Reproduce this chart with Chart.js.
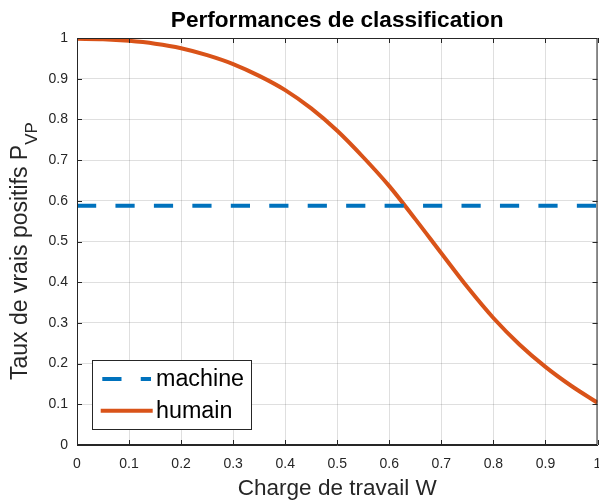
<!DOCTYPE html>
<html>
<head>
<meta charset="utf-8">
<script src="https://cdn.jsdelivr.net/npm/chart.js@4/dist/chart.umd.min.js"></script>
<style>
  html, body { margin: 0; padding: 0; background: #ffffff; }
  canvas { display: block; }
</style>
</head>
<body>
<canvas id="perf" width="599" height="500"></canvas>
<script>
// Workload W (x) and true-positive rate for each classifier
const workload = [0, 0.05, 0.1, 0.15, 0.2, 0.25, 0.3, 0.35, 0.4, 0.45, 0.5,
                  0.55, 0.6, 0.65, 0.7, 0.75, 0.8, 0.85, 0.9, 0.95, 1];
const humanRate = [0.998, 0.997, 0.993, 0.986, 0.975, 0.958, 0.936, 0.907, 0.872, 0.827, 0.772,
                   0.707, 0.636, 0.555, 0.471, 0.388, 0.312, 0.247, 0.192, 0.145, 0.104];
const machineX = [0, 1];
const machineRate = [0.588, 0.588];

const tickValues = [0, 0.1, 0.2, 0.3, 0.4, 0.5, 0.6, 0.7, 0.8, 0.9, 1];
const tickLabels = ['0', '0.1', '0.2', '0.3', '0.4', '0.5', '0.6', '0.7', '0.8', '0.9', '1'];

const seriesNames = ['machine', 'humain'];
const chartTitle = 'Performances de classification';
const xTitle = 'Charge de travail W';
const yTitleMain = 'Taux de vrais positifs P';
const yTitleSub = 'VP';

const BLUE = '#0072BD';
const ORANGE = '#D95319';
const AXIS = '#262626';
const FONT = '"Liberation Sans", Arial, Helvetica, sans-serif';

function labelFor(v) {
  const i = tickValues.findIndex(t => Math.abs(t - v) < 1e-9);
  return i >= 0 ? tickLabels[i] : '';
}

// Box, inward tick marks, title, rotated y title with subscript, legend
const decorations = {
  id: 'decorations',
  afterDatasetsDraw(chart) {
    const { ctx, chartArea: a, scales } = chart;
    const tl = 5;
    ctx.save();
    ctx.strokeStyle = AXIS;
    ctx.lineWidth = 1;
    ctx.beginPath();
    ctx.rect(a.left + 0.5, a.top + 0.5, a.right - a.left - 1, a.bottom - a.top - 1);
    ctx.stroke();
    ctx.beginPath();
    tickValues.forEach(v => {
      const x = Math.round(scales.x.getPixelForValue(v)) + 0.5;
      ctx.moveTo(x, a.bottom); ctx.lineTo(x, a.bottom - tl);
      ctx.moveTo(x, a.top); ctx.lineTo(x, a.top + tl);
      const y = Math.round(scales.y.getPixelForValue(v)) + 0.5;
      ctx.moveTo(a.left, y); ctx.lineTo(a.left + tl, y);
      ctx.moveTo(a.right, y); ctx.lineTo(a.right - tl, y);
    });
    ctx.stroke();

    // legend
    const lx = 92.5, ly = 360.5, lw = 159, lh = 69;
    ctx.fillStyle = '#ffffff';
    ctx.fillRect(lx, ly, lw, lh);
    ctx.strokeStyle = AXIS;
    ctx.strokeRect(lx, ly, lw, lh);
    const ds = chart.data.datasets;
    const rows = [379, 410.7];
    const spans = [[102.3, 151], [100.7, 152.7]];
    rows.forEach((ry, i) => {
      ctx.save();
      ctx.strokeStyle = ds[i].borderColor;
      ctx.lineWidth = ds[i].borderWidth;
      ctx.lineCap = 'butt';
      ctx.setLineDash(ds[i].borderDash || []);
      ctx.beginPath();
      ctx.moveTo(spans[i][0], ry);
      ctx.lineTo(spans[i][1], ry);
      ctx.stroke();
      ctx.restore();
      ctx.fillStyle = '#000000';
      ctx.font = '23.3px ' + FONT;
      ctx.textAlign = 'left';
      ctx.textBaseline = 'middle';
      ctx.fillText(ds[i].label, 156, ry + 1);
    });

    ctx.restore();
  },
  afterDraw(chart) {
    const { ctx, chartArea: a } = chart;
    ctx.save();
    // title
    ctx.fillStyle = '#000000';
    ctx.font = 'bold 22.6px ' + FONT;
    ctx.textAlign = 'center';
    ctx.textBaseline = 'alphabetic';
    ctx.fillText(chartTitle, (a.left + a.right) / 2, 26.7);

    // rotated y title with subscript
    ctx.fillStyle = AXIS;
    const mainFont = '23px ' + FONT;
    const subFont = '17px ' + FONT;
    ctx.font = mainFont;
    const wMain = ctx.measureText(yTitleMain).width;
    ctx.translate(27.3, 380);
    ctx.rotate(-Math.PI / 2);
    ctx.textAlign = 'left';
    ctx.fillText(yTitleMain, 0, 0);
    ctx.font = subFont;
    ctx.fillText(yTitleSub, wMain, 9.4);
    ctx.restore();
  }
};

const toPoints = (xs, ys) => xs.map((x, i) => ({ x, y: ys[i] }));

new Chart(document.getElementById('perf'), {
  type: 'line',
  data: {
    datasets: [
      {
        label: seriesNames[0],
        data: toPoints(machineX, machineRate),
        borderColor: BLUE,
        borderWidth: 4,
        borderDash: [19.2, 19.25],
        borderCapStyle: 'butt',
        pointRadius: 0,
        fill: false,
        clip: 0
      },
      {
        label: seriesNames[1],
        data: toPoints(workload, humanRate),
        borderColor: ORANGE,
        borderWidth: 4,
        cubicInterpolationMode: 'monotone',
        borderCapStyle: 'butt',
        pointRadius: 0,
        fill: false,
        clip: 0
      }
    ]
  },
  options: {
    responsive: false,
    animation: false,
    events: [],
    layout: { padding: { top: 38, right: 1.5, left: 0, bottom: 0 } },
    plugins: {
      legend: { display: false },
      title: { display: false },
      tooltip: { enabled: false }
    },
    scales: {
      x: {
        type: 'linear',
        min: 0,
        max: 1,
        afterBuildTicks(scale) { scale.ticks = tickValues.map(v => ({ value: v })); },
        afterFit(scale) { scale.height = 55; scale.paddingLeft = 0; scale.paddingRight = 0; },
        ticks: {
          callback: v => labelFor(v),
          color: AXIS,
          font: { family: FONT, size: 14 },
          padding: 11,
          maxRotation: 0,
          autoSkip: false
        },
        grid: { color: 'rgba(38,38,38,0.15)', lineWidth: 1, drawTicks: false },
        border: { color: AXIS, width: 1 },
        title: {
          display: true,
          text: xTitle,
          color: AXIS,
          font: { family: FONT, size: 22.5, lineHeight: 1 },
          padding: { top: 0, bottom: 0 }
        }
      },
      y: {
        type: 'linear',
        min: 0,
        max: 1,
        afterBuildTicks(scale) { scale.ticks = tickValues.map(v => ({ value: v })); },
        afterFit(scale) { scale.width = 77; scale.paddingTop = 0; scale.paddingBottom = 0; },
        ticks: {
          callback: v => labelFor(v),
          color: AXIS,
          font: { family: FONT, size: 14 },
          padding: 9,
          autoSkip: false
        },
        grid: { color: 'rgba(38,38,38,0.15)', lineWidth: 1, drawTicks: false },
        border: { color: AXIS, width: 1 }
      }
    }
  },
  plugins: [decorations]
});
</script>
</body>
</html>
